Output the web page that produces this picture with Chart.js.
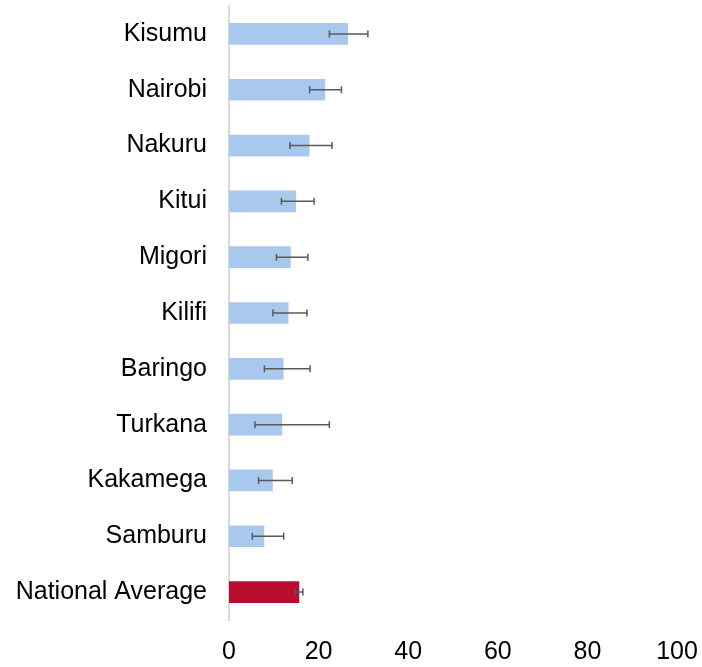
<!DOCTYPE html>
<html>
<head>
<meta charset="utf-8">
<style>
  html, body { margin: 0; padding: 0; background: #fff; }
  canvas { display: block; }
</style>
<script src="https://cdn.jsdelivr.net/npm/chart.js@4"></script>
</head>
<body>
<canvas id="myBarChart" width="702" height="667"></canvas>
<script>
var counties = ["Kisumu", "Nairobi", "Nakuru", "Kitui", "Migori", "Kilifi",
    "Baringo", "Turkana", "Kakamega", "Samburu", "National Average"];
var values = [26.5, 21.4, 17.9, 14.9, 13.7, 13.2, 12.1, 11.8, 9.7, 7.8, 15.6];
var lower = [22.4, 18.0, 13.6, 11.7, 10.6, 9.8, 7.9, 5.8, 6.6, 5.2, 14.7];
var upper = [31.0, 25.1, 23.0, 19.0, 17.6, 17.4, 18.1, 22.4, 14.1, 12.2, 16.5];
var xTicks = [0, 20, 40, 60, 80, 100];

var barColors = counties.map(function (c) {
    return c === "National Average" ? '#BA0C2F' : '#A9C8EE';
});

// draw the error bars on top of the bars
const errorBars = {
    id: 'errorBars',
    afterDatasetsDraw: function (chart) {
        var ctx = chart.ctx;
        var x = chart.scales.x;
        var y = chart.scales.y;
        ctx.save();
        ctx.strokeStyle = '#595959';
        ctx.lineWidth = 1.5;
        for (var i = 0; i < values.length; i++) {
            var yc = y.getPixelForValue(i);
            var x1 = x.getPixelForValue(lower[i]);
            var x2 = x.getPixelForValue(upper[i]);
            ctx.beginPath();
            ctx.moveTo(x1, yc);
            ctx.lineTo(x2, yc);
            ctx.moveTo(x1, yc - 3.5);
            ctx.lineTo(x1, yc + 3.5);
            ctx.moveTo(x2, yc - 3.5);
            ctx.lineTo(x2, yc + 3.5);
            ctx.stroke();
        }
        ctx.restore();
    }
};

const data = {
    labels: counties,
    datasets: [{
        data: values,
        backgroundColor: barColors,
        barThickness: 21
    }]
};

const config = {
    type: 'bar',
    data: data,
    options: {
        indexAxis: 'y',
        responsive: false,
        animation: false,
        layout: {
            padding: { top: 6, right: 25, left: 0, bottom: 0 }
        },
        plugins: {
            legend: { display: false },
            tooltip: { enabled: false }
        },
        scales: {
            x: {
                min: 0,
                max: 100,
                afterBuildTicks: function (scale) {
                    scale.ticks = xTicks.map(function (v) { return { value: v }; });
                },
                afterFit: function (scale) {
                    scale.height = 47;
                    scale.paddingLeft = 0;
                    scale.paddingRight = 0;
                },
                grid: { display: false, drawTicks: false },
                border: { display: false },
                ticks: {
                    color: '#000',
                    padding: 17,
                    maxRotation: 0,
                    font: { family: "'Liberation Sans', Arial, sans-serif", size: 25 }
                }
            },
            y: {
                afterFit: function (scale) {
                    scale.width = 229;
                    scale.paddingTop = 0;
                    scale.paddingBottom = 0;
                },
                grid: { display: false, drawTicks: false },
                border: { display: true, color: '#D9D9D9', width: 2 },
                ticks: {
                    color: '#000',
                    padding: 22,
                    font: { family: "'Liberation Sans', Arial, sans-serif", size: 25 }
                }
            }
        }
    },
    plugins: [errorBars]
};

var ctx = document.getElementById('myBarChart').getContext('2d');
var myBarChart = new Chart(ctx, config);
</script>
</body>
</html>
